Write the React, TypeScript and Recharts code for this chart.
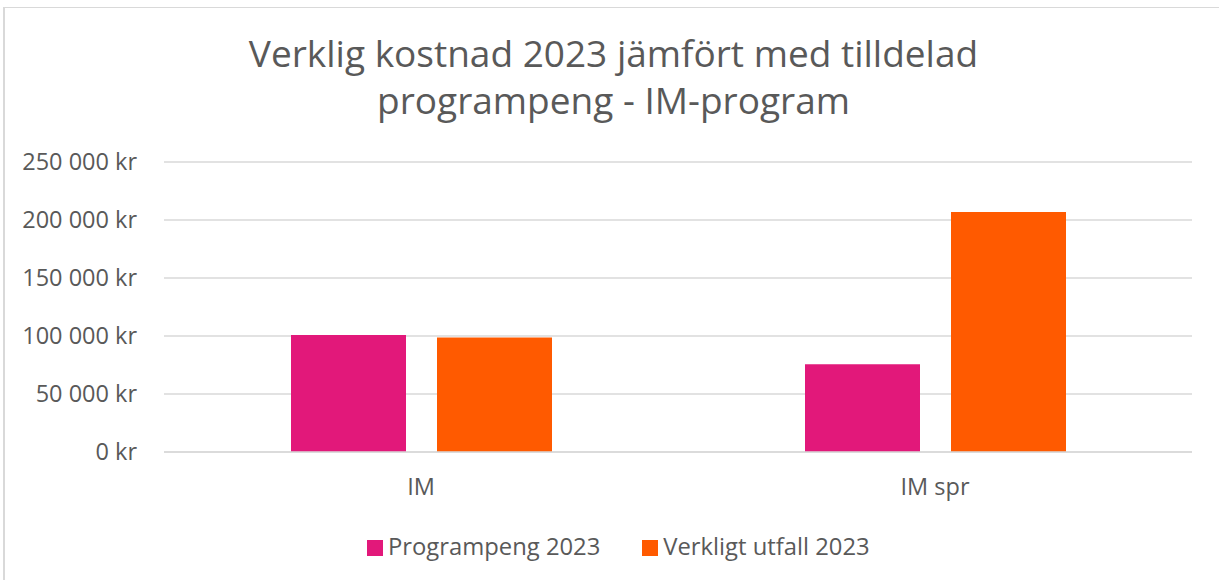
import React from "react";
import { BarChart, Bar, XAxis, YAxis, CartesianGrid, Legend } from "recharts";

const categories = ["IM", "IM spr"];
const programpeng2023 = [100900, 75700];
const verkligtUtfall2023 = [98600, 206900];
const yTicks = [0, 50000, 100000, 150000, 200000, 250000];
const seriesNames = ["Programpeng 2023", "Verkligt utfall 2023"];
const titleLines = ["Verklig kostnad 2023 jämfört med tilldelad", "programpeng - IM-program"];

const data = categories.map((c, i) => ({
  name: c,
  programpeng: programpeng2023[i],
  verkligt: verkligtUtfall2023[i],
}));

const PINK = "#E2187A";
const ORANGE = "#FF5A00";
const TEXT = "#595959";
const GRID = "#D9D9D9";
const FONT = "'Open Sans', 'Noto Sans', sans-serif";

const fmt = (v: number) => {
  const s = String(Math.round(v)).replace(/\B(?=(\d{3})+(?!\d))/g, " ");
  return `${s} kr`;
};

const LegendContent = (props: any) => {
  const payload = props.payload || [];
  return (
    <div style={{ display: "flex", alignItems: "center", fontFamily: FONT, fontSize: 23.8, lineHeight: "24px", color: TEXT }}>
      {payload.map((p: any, i: number) => (
        <div key={i} style={{ display: "flex", alignItems: "center", marginRight: i === 0 ? 42 : 0 }}>
          <div style={{ width: 16, height: 16, background: p.color, marginRight: 5, marginTop: 4 }} />
          <span>{p.value}</span>
        </div>
      ))}
    </div>
  );
};

export default function App() {
  return (
    <div style={{ position: "absolute", left: 0, top: 0, width: 1219, height: 580, overflow: "hidden", background: "#fff" }}>
      <div
        style={{
          position: "absolute",
          left: 3,
          top: 7,
          width: 1300,
          height: 700,
          borderLeft: `2px solid ${GRID}`,
          borderTop: `1px solid ${GRID}`,
          boxSizing: "border-box",
        }}
      />
      <div
        style={{
          position: "absolute",
          left: 4,
          top: 29,
          width: 1219,
          textAlign: "center",
          fontFamily: FONT,
          fontSize: 37,
          lineHeight: "47px",
          color: TEXT,
        }}
      >
        {titleLines.map((l, i) => (
          <div key={i}>{l}</div>
        ))}
      </div>
      <div style={{ position: "absolute", left: 0, top: 0 }}>
        <BarChart
          width={1219}
          height={580}
          data={data}
          margin={{ top: 162, right: 27, bottom: 98, left: 0 }}
          barGap={31}
          barSize={115}
        >
          <CartesianGrid vertical={false} stroke={GRID} strokeWidth={1.5} />
          <XAxis
            dataKey="name"
            height={30}
            axisLine={{ stroke: GRID, strokeWidth: 1.5 }}
            tickLine={false}
            tickSize={0}
            tickMargin={26}
            tick={{ fill: TEXT, fontSize: 23.5, fontFamily: FONT }}
          />
          <YAxis
            width={164}
            domain={[0, 250000]}
            ticks={yTicks}
            axisLine={false}
            tickLine={false}
            tickSize={0}
            tickMargin={27}
            tickFormatter={fmt}
            tick={{ fill: TEXT, fontSize: 23.5, fontFamily: FONT }}
          />
          <Legend
            verticalAlign="middle"
            align="center"
            layout="horizontal"
            content={<LegendContent />}
            wrapperStyle={{ left: 367, top: 534, width: "auto", height: "auto" }}
          />
          <Bar dataKey="programpeng" name={seriesNames[0]} fill={PINK} isAnimationActive={false} />
          <Bar dataKey="verkligt" name={seriesNames[1]} fill={ORANGE} isAnimationActive={false} />
        </BarChart>
      </div>
    </div>
  );
}
